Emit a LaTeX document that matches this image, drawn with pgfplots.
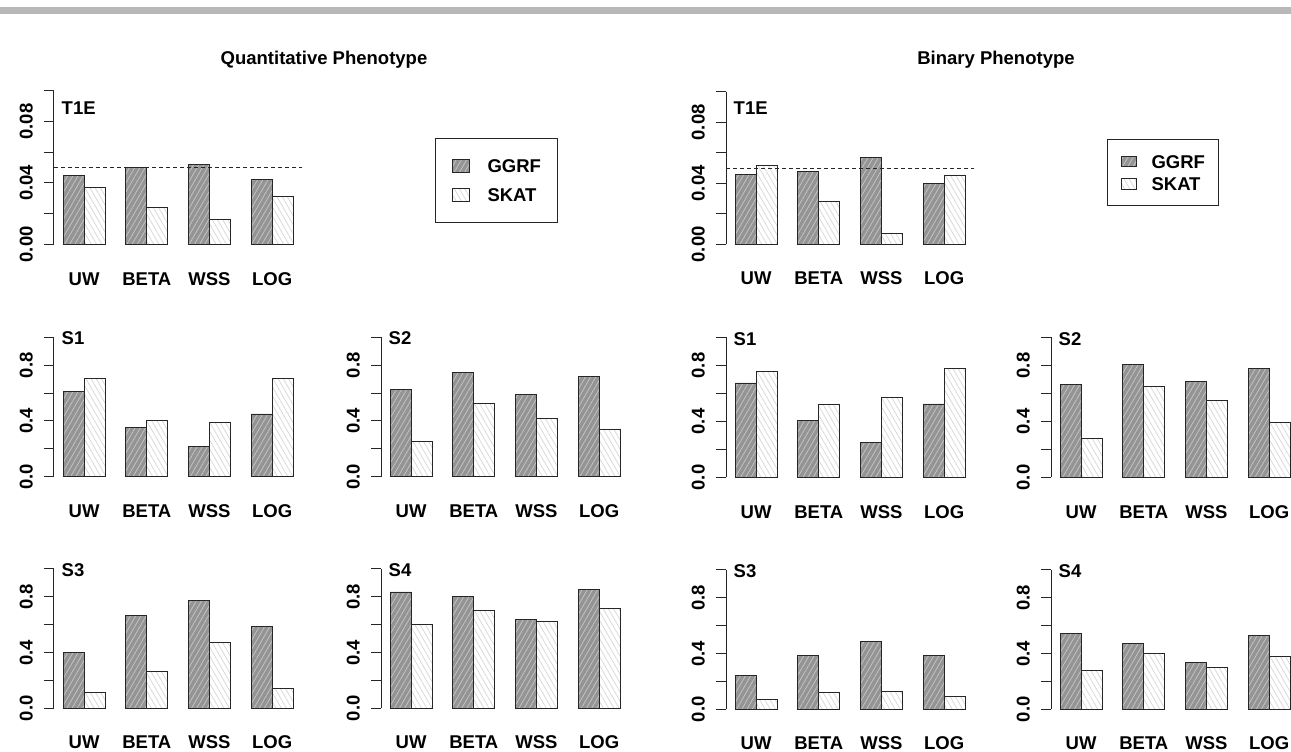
\documentclass[border=0pt]{standalone}
\usepackage{fontspec}
\setmainfont{Liberation Sans}
\usepackage{pgfplots}
\pgfplotsset{compat=1.18}
\usetikzlibrary{patterns.meta}
\newcommand\lab{\fontsize{18.5}{20}\selectfont\bfseries}
\tikzset{
  ggrf/.style={preaction={fill=black!42}, pattern={Lines[angle=60,distance=4.5pt,line width=0.7pt]}, pattern color=black!22, draw=black!85, line width=0.9pt},
  skat/.style={preaction={fill=white}, pattern={Lines[angle=120,distance=4.5pt,line width=0.7pt]}, pattern color=black!16, draw=black!85, line width=0.9pt},
}
\pgfplotsset{
 panel/.style={
   scale only axis, width=248.3pt,
   xmin=0.56, xmax=12.44, ymin=0,
   ybar, bar width=1,
   every axis plot/.append style={bar shift=0pt},
   axis x line*=bottom, axis y line*=left,
   x axis line style={draw=none},
   y axis line style={draw=black!85, line width=1pt},
   xtick={2,5,8,11}, xticklabels={UW,BETA,WSS,LOG},
   xtick style={draw=none},
   ytick style={draw=black!85, line width=1pt},
   tick align=outside, major tick length=10pt,
   minor tick num=0,
   xticklabel style={font=\lab, anchor=base, inner sep=0pt, yshift=-30.7pt},
   yticklabel style={font=\lab, rotate=90, anchor=south, inner sep=0pt},
   yticklabel shift=11pt,
   clip=false,
   legend image code/.code={\draw[##1] (0pt,-6.5pt) rectangle (17pt,6.5pt);},
 },
 sp/.style={panel, ymax=1, ytick={0,0.2,0.4,0.6,0.8,1}, yticklabels={0.0,,0.4,,0.8,}},
 tp/.style={panel, ymax=0.1, ytick={0,0.02,0.04,0.06,0.08,0.1}, yticklabels={0.00,,0.04,,0.08,}},
}
\newcommand\plab[2]{\node[anchor=base west, inner sep=0pt, font=\lab] at ([xshift=7.5pt,yshift=#2]rel axis cs:0,1) {#1};}
\begin{document}
\begin{tikzpicture}[x=1pt,y=1pt]
\useasboundingbox (0pt,0pt) rectangle (1291pt,752pt);
\clip (0pt,0pt) rectangle (1291pt,752pt);
\fill[black!28] (0pt,737.7pt) rectangle (1291pt,745.3pt);
\node[font=\lab, anchor=base] at (324pt,687.5pt) {Quantitative Phenotype};
\node[font=\lab, anchor=base] at (996pt,687.5pt) {Binary Phenotype};

% ---------- Quantitative ----------
\begin{axis}[tp, at={(54pt,507.6pt)}, anchor=south west, height=153.7pt,
  legend style={at={(1.534,0.694)}, anchor=north west, draw=black!85, line width=1pt,
    inner xsep=16.75pt, inner ysep=21pt, row sep=14.5pt, column sep=17.5pt,
    nodes={inner sep=0pt, text depth=0pt, font=\lab}, cells={anchor=west}}]
\addplot[ggrf] coordinates {(1.5,0.045) (4.5,0.050) (7.5,0.052) (10.5,0.042)};
\addlegendentry{GGRF}
\addplot[skat] coordinates {(2.5,0.037) (5.5,0.024) (8.5,0.016) (11.5,0.031)};
\addlegendentry{SKAT}
\addplot[sharp plot, draw=black!85, line width=1pt, dash pattern=on 4pt off 3pt, forget plot] coordinates {(0.56,0.05) (12.44,0.05)};
\plab{T1E}{-23.6pt}
\end{axis}

\begin{axis}[sp, at={(54pt,275.3pt)}, anchor=south west, height=139.4pt]
\addplot[ggrf] coordinates {(1.5,0.61) (4.5,0.355) (7.5,0.22) (10.5,0.45)};
\addplot[skat] coordinates {(2.5,0.705) (5.5,0.40) (8.5,0.39) (11.5,0.705)};
\plab{S1}{-7.7pt}
\end{axis}

\begin{axis}[sp, at={(381pt,275.3pt)}, anchor=south west, height=139.4pt]
\addplot[ggrf] coordinates {(1.5,0.625) (4.5,0.75) (7.5,0.59) (10.5,0.72)};
\addplot[skat] coordinates {(2.5,0.255) (5.5,0.525) (8.5,0.42) (11.5,0.34)};
\plab{S2}{-7.7pt}
\end{axis}

\begin{axis}[sp, at={(54pt,43.7pt)}, anchor=south west, height=139.3pt]
\addplot[ggrf] coordinates {(1.5,0.40) (4.5,0.665) (7.5,0.775) (10.5,0.585)};
\addplot[skat] coordinates {(2.5,0.115) (5.5,0.265) (8.5,0.475) (11.5,0.145)};
\plab{S3}{-7.7pt}
\end{axis}

\begin{axis}[sp, at={(381pt,43.7pt)}, anchor=south west, height=139.3pt]
\addplot[ggrf] coordinates {(1.5,0.835) (4.5,0.805) (7.5,0.635) (10.5,0.85)};
\addplot[skat] coordinates {(2.5,0.605) (5.5,0.705) (8.5,0.627) (11.5,0.72)};
\plab{S4}{-7.7pt}
\end{axis}

% ---------- Binary ----------
\begin{axis}[tp, at={(726pt,507.7pt)}, anchor=south west, height=152.5pt,
  legend image code/.code={\draw[#1] (0pt,-5.3pt) rectangle (15pt,5.3pt);},
  legend style={at={(1.533,0.691)}, anchor=north west, draw=black!85, line width=1pt,
    inner xsep=13.5pt, inner ysep=15.7pt, row sep=9.2pt, column sep=15pt,
    nodes={inner sep=0pt, text depth=0pt, font=\lab}, cells={anchor=west}}]
\addplot[ggrf] coordinates {(1.5,0.0455) (4.5,0.048) (7.5,0.057) (10.5,0.040)};
\addlegendentry{GGRF}
\addplot[skat] coordinates {(2.5,0.052) (5.5,0.028) (8.5,0.007) (11.5,0.045)};
\addlegendentry{SKAT}
\addplot[sharp plot, draw=black!85, line width=1pt, dash pattern=on 4pt off 3pt, forget plot] coordinates {(0.56,0.05) (12.44,0.05)};
\plab{T1E}{-23pt}
\end{axis}

\begin{axis}[sp, at={(726pt,274.5pt)}, anchor=south west, height=140pt]
\addplot[ggrf] coordinates {(1.5,0.675) (4.5,0.405) (7.5,0.25) (10.5,0.525)};
\addplot[skat] coordinates {(2.5,0.76) (5.5,0.525) (8.5,0.57) (11.5,0.78)};
\plab{S1}{-7.7pt}
\end{axis}

\begin{axis}[sp, at={(1051pt,274.5pt)}, anchor=south west, height=140pt]
\addplot[ggrf] coordinates {(1.5,0.665) (4.5,0.81) (7.5,0.685) (10.5,0.78)};
\addplot[skat] coordinates {(2.5,0.28) (5.5,0.65) (8.5,0.55) (11.5,0.39)};
\plab{S2}{-7.7pt}
\end{axis}

\begin{axis}[sp, at={(726pt,42.7pt)}, anchor=south west, height=139.3pt]
\addplot[ggrf] coordinates {(1.5,0.24) (4.5,0.385) (7.5,0.49) (10.5,0.385)};
\addplot[skat] coordinates {(2.5,0.07) (5.5,0.12) (8.5,0.125) (11.5,0.09)};
\plab{S3}{-7.7pt}
\end{axis}

\begin{axis}[sp, at={(1051pt,42.7pt)}, anchor=south west, height=139.3pt]
\addplot[ggrf] coordinates {(1.5,0.545) (4.5,0.475) (7.5,0.335) (10.5,0.53)};
\addplot[skat] coordinates {(2.5,0.28) (5.5,0.40) (8.5,0.30) (11.5,0.38)};
\plab{S4}{-7.7pt}
\end{axis}
\end{tikzpicture}
\end{document}
